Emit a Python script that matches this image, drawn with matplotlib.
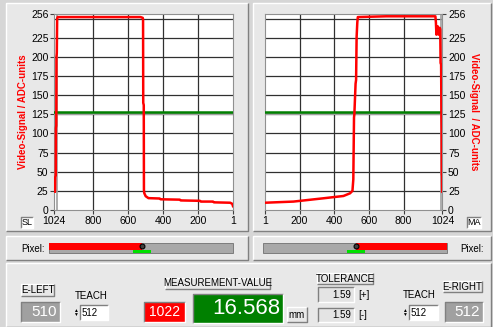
import numpy as np

import matplotlib
matplotlib.use('Agg')

import matplotlib.pyplot as plt
from matplotlib.patches import Rectangle

plt.rcParams['font.family'] = ['Liberation Sans', 'DejaVu Sans']

# left sensor signal (pixel counted from 1024 down to 1)
left_px = [1019, 1018, 1017, 1014, 1013, 1011, 1010, 1008, 1006, 1003, 800, 600, 530, 517,
           515, 514, 511, 510, 508, 500, 484, 420, 415, 305, 300, 190, 185, 115, 110, 17, 5, 1]
left_val = [24, 26, 43, 45, 107, 110, 200, 205, 250, 252, 252, 252, 252, 251,
            249, 140, 137, 26, 22, 18, 15.5, 15, 14, 13.5, 12.5, 12, 11, 11, 10, 9.5, 8, 5]

# right sensor signal
right_px = [1, 165, 338, 453, 491, 505, 510, 514, 516, 523, 526, 529, 533, 536, 700, 983,
            986, 989, 993, 996, 999, 1002, 1005, 1008, 1011, 1013, 1016, 1018, 1019, 1020, 1021, 1022]
right_val = [9.5, 11, 15.3, 18.3, 21.8, 25, 40, 121, 125, 165, 170, 226, 245, 252, 253, 253,
             245, 229, 238, 240, 232, 229, 236, 238, 236, 192, 190, 120, 105, 46, 45, 24]

threshold = 128
y_ticks = [0, 25, 50, 75, 100, 125, 150, 175, 200, 225, 256]
grid_y = [25, 50, 75, 100, 125, 150, 175, 200, 225, 250]
left_xticks = [1024, 800, 600, 400, 200, 1]
right_xticks = [1, 200, 400, 600, 800, 1024]

e_left, e_right = 510, 512
teach_left, teach_right = 512, 512
edge_pixel = 1022
measurement = '16.568'
tol_plus, tol_minus = '1.59', '1.59'

W, H = 493, 327
fig = plt.figure(figsize=(W / 100, H / 100), dpi=100)
fig.patch.set_facecolor('#d6d6d6')

# background layer in pixel coordinates
bg = fig.add_axes([0, 0, 1, 1])
bg.set_xlim(0, W)
bg.set_ylim(H, 0)
bg.axis('off')


def box(x0, y0, x1, y1, face, style='raised', edge=None):
    bg.add_patch(Rectangle((x0, y0), x1 - x0, y1 - y0, facecolor=face,
                           edgecolor=edge if edge else 'none', lw=0.8))
    if style == 'raised':
        light, dark = 'white', '#808080'
    elif style == 'sunken':
        light, dark = '#808080', 'white'
    else:
        return
    bg.plot([x0, x0, x1], [y1, y0, y0], color=light, lw=1, solid_capstyle='butt')
    bg.plot([x0, x1, x1], [y1, y1, y0], color=dark, lw=1, solid_capstyle='butt')


# panels
box(6, 3, 248, 231, '#e8e8e8')
box(253, 3, 491, 231, '#e8e8e8')
box(6, 236, 248, 260, '#e8e8e8')
box(253, 236, 491, 260, '#e8e8e8')
box(6, 263, 491, 327, '#e8e8e8')


def draw_signal(ax, px, val, xticks, marker_px, right=False):
    ax.set_facecolor('white')
    for g in grid_y:
        ax.axhline(g, color='#303030', lw=0.9, zorder=1)
    for t in xticks[1:-1]:
        ax.axvline(t, color='#303030', lw=0.9, zorder=1)
    ax.axvline(marker_px, color='#a0a0a0', lw=1.2, zorder=1)
    ax.axhline(threshold - 1.5, color='#a0a0a0', lw=2.2, zorder=2)
    ax.axhline(threshold, color='#008000', lw=1.8, zorder=3)
    ax.plot(px, val, color='#ff0000', lw=1.8, zorder=4)
    ax.set_ylim(0, 256)
    ax.set_yticks(y_ticks)
    ax.set_xticks(xticks)
    ax.tick_params(labelsize=7.5, length=3, width=0.8, color='#404040', pad=1)
    for s in ax.spines.values():
        s.set_color('#909090')
    if right:
        ax.yaxis.tick_right()
        ax.yaxis.set_label_position('right')
        ax.set_ylabel('Video-Signal  / ADC-units', color='red', fontsize=7,
                      fontweight='bold', rotation=270, labelpad=10)
    else:
        ax.set_ylabel('Video-Signal / ADC-units', color='red', fontsize=7,
                      fontweight='bold', labelpad=2)


ax1 = fig.add_axes([54 / W, 1 - 210 / H, 179 / W, 196 / H])
ax1.set_xlim(1024, 1)
draw_signal(ax1, left_px, left_val, left_xticks, 1004)

ax2 = fig.add_axes([265 / W, 1 - 210 / H, 177.5 / W, 196 / H])
ax2.set_xlim(1, 1024)
draw_signal(ax2, right_px, right_val, right_xticks, 1013, right=True)

# SL / MA buttons
box(21, 217, 33, 228, 'white', style='sunken')
bg.text(27, 222.5, 'SL', fontsize=6.5, ha='center', va='center')
box(467, 217, 481, 228, 'white', style='sunken')
bg.text(474, 222.5, 'MA', fontsize=6.5, ha='center', va='center')

# pixel bars
def pixel_bar(x0, x1, xm, red_left):
    bg.add_patch(Rectangle((x0, 243), x1 - x0, 10, facecolor='#a8a8a8', edgecolor='#707070', lw=0.6))
    if red_left:
        bg.add_patch(Rectangle((x0, 243), xm - x0, 7, facecolor='#ff0000', edgecolor='none'))
    else:
        bg.add_patch(Rectangle((xm, 243), x1 - xm, 7, facecolor='#ff0000', edgecolor='none'))
    bg.add_patch(Rectangle((xm - 9, 250), 18, 3, facecolor='#00e000', edgecolor='none'))
    bg.plot(xm, 245.5, 'o', ms=3.5, mfc='#404040', mec='black', mew=0.8)


pixel_bar(49, 233, 142, True)
pixel_bar(263, 447, 356, False)
bg.text(21, 249.5, 'Pixel:', fontsize=7, va='center')
bg.text(460, 249.5, 'Pixel:', fontsize=7, va='center')

# bottom panel widgets
box(21, 284, 54, 296, '#e8e8e8')
bg.text(37.5, 290, 'E-LEFT', fontsize=7, ha='center', va='center')
box(21, 302, 60, 322, '#a0a0a0', style='sunken')
bg.text(57, 312, str(e_left), fontsize=11, color='white', ha='right', va='center')

bg.text(91, 296, 'TEACH', fontsize=7, ha='center', va='center')
box(80, 305, 108, 320, 'white', style='sunken')
bg.text(82, 312.5, str(teach_left), fontsize=7, va='center')
bg.text(75, 312.5, '\u25b2\n\u25bc', fontsize=3.5, ha='center', va='center', linespacing=0.9)

box(165, 278, 270, 289, '#e8e8e8')
bg.text(217.5, 283.5, 'MEASUREMENT-VALUE', fontsize=7, ha='center', va='center')
box(144, 302, 185, 322, '#ff0000', style='sunken')
bg.text(164.5, 312, str(edge_pixel), fontsize=10, color='white', ha='center', va='center')
box(193, 294, 283, 323, '#008000', style='sunken')
bg.text(280, 308.5, measurement, fontsize=16, color='white', ha='right', va='center')
box(287, 307, 307, 322, '#e8e8e8')
bg.text(297, 314.5, 'mm', fontsize=7, ha='center', va='center')

box(317, 273, 373, 284, '#e8e8e8')
bg.text(345, 278.5, 'TOLERANCE', fontsize=7, ha='center', va='center')
box(318, 287, 354, 302, '#e4e4e4', style='sunken')
bg.text(351, 294.5, tol_plus, fontsize=7, ha='right', va='center')
bg.text(358, 294.5, '[+]', fontsize=7, va='center')
box(318, 308, 354, 322, '#e4e4e4', style='sunken')
bg.text(351, 315, tol_minus, fontsize=7, ha='right', va='center')
bg.text(358, 315, '[-]', fontsize=7, va='center')

bg.text(419, 295, 'TEACH', fontsize=7, ha='center', va='center')
box(409, 305, 438, 320, 'white', style='sunken')
bg.text(411, 312.5, str(teach_right), fontsize=7, va='center')
bg.text(404, 312.5, '\u25b2\n\u25bc', fontsize=3.5, ha='center', va='center', linespacing=0.9)

box(443, 281, 482, 292, '#e8e8e8')
bg.text(462.5, 286.5, 'E-RIGHT', fontsize=7, ha='center', va='center')
box(445, 302, 483, 322, '#a0a0a0', style='sunken')
bg.text(480, 312, str(e_right), fontsize=11, color='white', ha='right', va='center')

fig.savefig('out.png', dpi=100, facecolor=fig.get_facecolor())
